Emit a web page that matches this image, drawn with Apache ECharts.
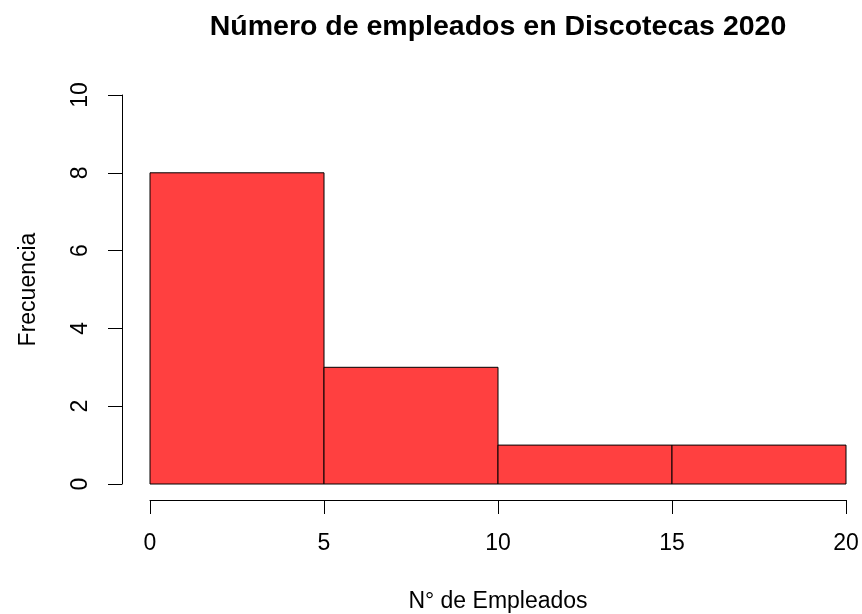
<!DOCTYPE html>
<html>
<head>
<meta charset="utf-8">
<script src="https://cdn.jsdelivr.net/npm/echarts@6/dist/echarts.min.js"></script>
<style>html,body{margin:0;padding:0;background:#fff}#c{width:862px;height:614px}</style>
</head>
<body>
<div id="c"></div>
<script>
var binStarts = [0, 5, 10, 15];
var binEnds = [5, 10, 15, 20];
var counts = [8, 3, 1, 1];
var xTicks = [0, 5, 10, 15, 20];
var yTicks = [0, 2, 4, 6, 8, 10];
var titleText = 'Número de empleados en Discotecas 2020';
var xName = 'N° de Empleados';
var yName = 'Frecuencia';

var data = binStarts.map(function (s, i) { return [s, binEnds[i], counts[i]]; });
var FONT = '"Liberation Sans", Arial, sans-serif';

var chart = echarts.init(document.getElementById('c'));
chart.setOption({
  backgroundColor: '#ffffff',
  animation: false,
  title: {
    text: titleText,
    left: 493,
    top: 8,
    textAlign: 'center',
    textStyle: { fontFamily: FONT, fontSize: 28.5, fontWeight: 'bold', color: '#000' }
  },
  grid: { left: 150, right: 16, top: 95, bottom: 130, containLabel: false, outerBoundsMode: 'none' },
  xAxis: {
    type: 'value',
    min: xTicks[0], max: xTicks[xTicks.length - 1], interval: 5,
    offset: 16,
    name: xName,
    nameLocation: 'middle',
    nameGap: 90,
    nameTextStyle: { fontFamily: FONT, fontSize: 23, color: '#000' },
    axisLine: { show: true, onZero: false, lineStyle: { color: '#000', width: 1 } },
    axisTick: { show: true, length: 14, lineStyle: { color: '#000' } },
    axisLabel: { fontFamily: FONT, fontSize: 23, color: '#000', margin: 32 },
    splitLine: { show: false }
  },
  yAxis: {
    type: 'value',
    min: yTicks[0], max: yTicks[yTicks.length - 1], interval: 2,
    offset: 28,
    name: yName,
    nameLocation: 'middle',
    nameGap: 82,
    nameRotate: 90,
    nameTextStyle: { fontFamily: FONT, fontSize: 23, color: '#000' },
    axisLine: { show: true, onZero: false, lineStyle: { color: '#000', width: 1 } },
    axisTick: { show: true, length: 14, lineStyle: { color: '#000' } },
    axisLabel: { fontFamily: FONT, fontSize: 23, color: '#000', margin: 30, rotate: 90 },
    splitLine: { show: false }
  },
  series: [{
    type: 'custom',
    data: data,
    encode: { x: [0, 1], y: 2 },
    renderItem: function (params, api) {
      var p0 = api.coord([api.value(0), 0]);
      var p1 = api.coord([api.value(1), api.value(2)]);
      return {
        type: 'rect',
        shape: { x: p0[0], y: p1[1], width: p1[0] - p0[0], height: p0[1] - p1[1] },
        style: { fill: '#FF4040', stroke: '#000', lineWidth: 1 }
      };
    }
  }]
});
</script>
</body>
</html>
